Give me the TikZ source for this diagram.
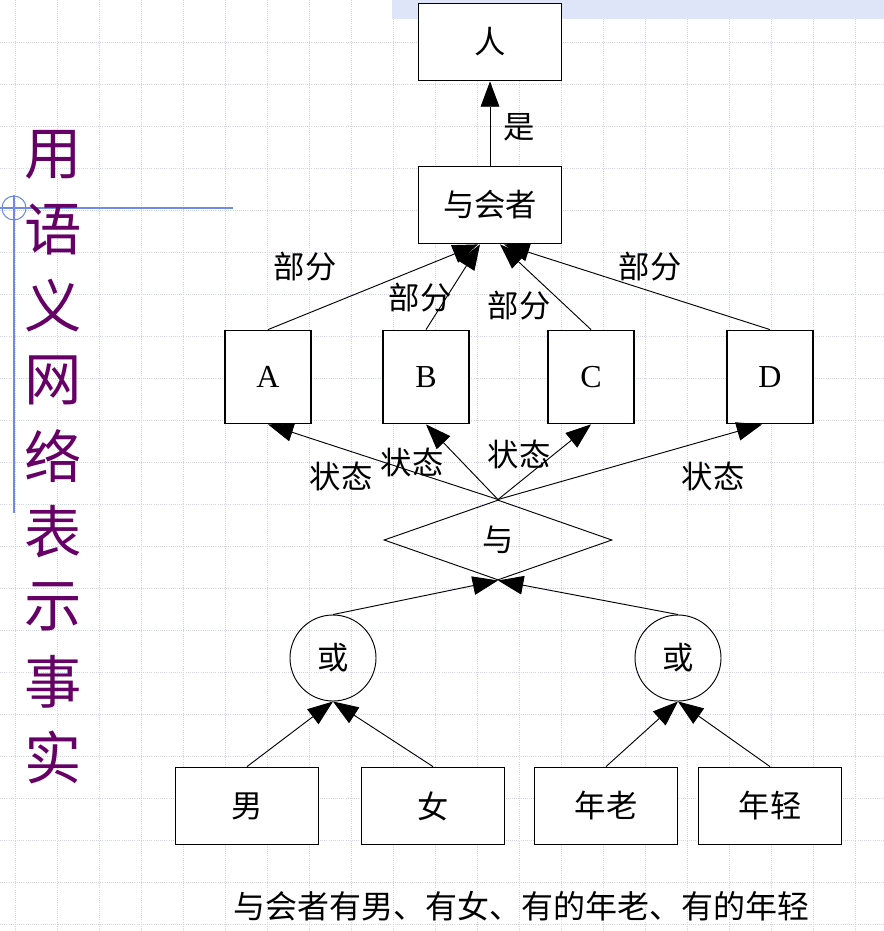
\documentclass[tikz,border=0pt]{standalone}
\usepackage{fontspec}
\usepackage{xcolor}
\usepackage{tikz}
\usetikzlibrary{
  arrows.meta,
  calc,
  shapes.geometric
}
\setmainfont{Liberation Serif}
\newfontfamily\cjk{Noto Sans CJK SC}
\definecolor{titlepurple}{RGB}{102,0,102}
\definecolor{guideblue}{RGB}{110,140,225}
\definecolor{gridgray}{RGB}{206,211,238}
\definecolor{bandblue}{RGB}{222,229,248}
\tikzset{
  sem/.style={ font=\cjk\fontsize{23.5}{27}\selectfont },
  concept/.style={
    draw=black,
    fill=white,
    line width=1.1pt,
    minimum width=107pt,
    minimum height=58pt,
    inner sep=0pt
  },
  letterbox/.style={
    concept,
    minimum width=64.5pt,
    minimum height=70pt,
    font=\rmfamily\fontsize{24}{28}\selectfont
  },
  orgate/.style={
    circle,
    draw=black,
    line width=0.7pt,
    minimum size=64.5pt,
    inner sep=0pt
  },
  andgate/.style={
    diamond,
    draw=black,
    line width=0.7pt,
    aspect=2.85,
    minimum width=171pt,
    minimum height=60pt,
    inner sep=0pt
  },
  link/.style={
    -{Triangle[length=19pt,width=14pt]},
    line width=0.7pt,
    draw=black
  },
  rel/.style={ inner sep=1pt },
  gridline/.style={ draw=gridgray, densely dotted, line width=0.6pt },
  glyph/.style={ font=\cjk\fontsize{43}{43}\selectfont, text=titlepurple }
}

\begin{document}
\begin{tikzpicture}[sem, x=0.75pt, y=-0.75pt]
  \useasboundingbox (0,0) rectangle (884,931);
  % background
  \fill[white] (0,0) rectangle (884,931);
  \foreach \gx in {15,57,...,884} \draw[gridline] (\gx,0) -- (\gx,931);
  \foreach \gy in {42,84,...,931} \draw[gridline] (0,\gy) -- (884,\gy);
  \fill[bandblue] (392,0) rectangle (884,19);
  \draw[guideblue, line width=0.8pt] (0,208) -- (233,208);
  \draw[guideblue, line width=0.8pt] (14,195) -- (14,513);
  \draw[guideblue, line width=0.8pt] (14,208) circle [radius=9pt];

  % title
  \foreach \ch [count=\i] in {用,语,义,网,络,表,示,事,实}
    \node[glyph] (title\i) at (53,{79+75.4*\i}) {\ch};

  % nodes
  \node[concept] (ren) at (490,42) {人};
  \node[concept] (hui) at (490,205) {与会者};
  \node[letterbox] (pa) at (268,377) {A};
  \node[letterbox] (pb) at (426,377) {B};
  \node[letterbox] (pc) at (591,377) {C};
  \node[letterbox] (pd) at (770,377) {D};
  \node[andgate] (yu) at (498,540) {与};
  \node[orgate] (huo1) at (333,658) {或};
  \node[orgate] (huo2) at (678,658) {或};
  \node[concept] (nan) at (247,806) {男};
  \node[concept] (nv) at (433,806) {女};
  \node[concept] (lao) at (606,806) {年老};
  \node[concept] (qing) at (770,806) {年轻};

  % links
  \draw[link] (hui) -- (ren);
  \draw[link] (pa.north) -- ($(hui.south)+(-12,0)$);
  \draw[link] (pb.north) -- ($(hui.south)+(-10,0)$);
  \draw[link] (pc.north) -- ($(hui.south)+(10,0)$);
  \draw[link] (pd.north) -- ($(hui.south)+(14,0)$);
  \draw[link] (yu.north) -- (pa.south);
  \draw[link] (yu.north) -- (pb.south);
  \draw[link] (yu.north) -- (pc.south);
  \draw[link] (yu.north) -- ($(pd.south)+(-8,0)$);
  \draw[link] (huo1.north) -- (yu.south);
  \draw[link] (huo2.north) -- (yu.south);
  \draw[link] (nan.north) -- (huo1.south);
  \draw[link] (nv.north) -- (huo1.south);
  \draw[link] (lao.north) -- (huo2.south);
  \draw[link] (qing.north) -- (huo2.south);

  % labels
  \node[rel] (isa) at (519,127) {是};
  \node[rel] (part1) at (305,267) {部分};
  \node[rel] (part2) at (420,298) {部分};
  \node[rel] (part3) at (519,306) {部分};
  \node[rel] (part4) at (650,267) {部分};
  \node[rel] (state1) at (341,476) {状态};
  \node[rel] (state2) at (412,462) {状态};
  \node[rel] (state3) at (519,454) {状态};
  \node[rel] (state4) at (713,476) {状态};
  \node[rel, font=\cjk\fontsize{24}{27}\selectfont] (caption) at (521,906)
    {与会者有男、有女、有的年老、有的年轻};
\end{tikzpicture}
\end{document}
